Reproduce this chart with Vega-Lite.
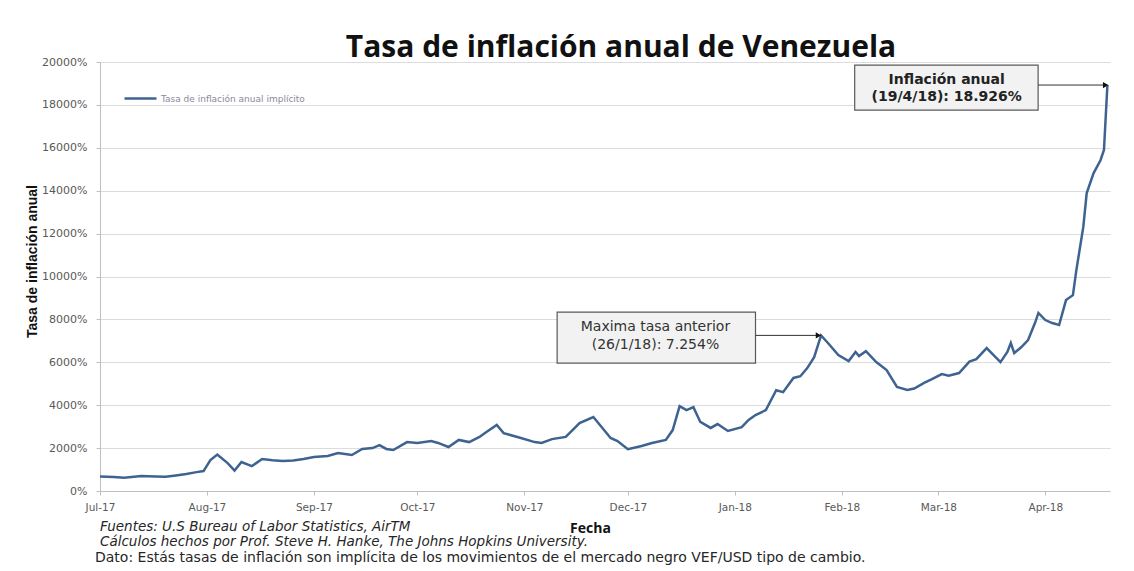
{
  "$schema": "https://vega.github.io/schema/vega-lite/v6.json",
  "width": 1010,
  "height": 429,
  "autosize": {"type": "none"},
  "padding": {"left": 100, "top": 62, "right": 24, "bottom": 80},
  "background": "white",
  "title": {
    "text": "Tasa de inflación anual de Venezuela",
    "font": "Open Sans",
    "fontSize": 30,
    "fontWeight": "bold",
    "color": "#111111",
    "anchor": "middle",
    "frame": "group",
    "baseline": "alphabetic",
    "offset": 5,
    "dx": 16,
    "dy": 36
  },
  "datasets": {
    "serie": [
      {"fecha": "2017-07-01", "valor": 680},
      {"fecha": "2017-07-05", "valor": 650},
      {"fecha": "2017-07-08", "valor": 620},
      {"fecha": "2017-07-13", "valor": 700},
      {"fecha": "2017-07-17", "valor": 680},
      {"fecha": "2017-07-20", "valor": 660},
      {"fecha": "2017-07-23", "valor": 720},
      {"fecha": "2017-07-26", "valor": 790},
      {"fecha": "2017-07-29", "valor": 880},
      {"fecha": "2017-07-31", "valor": 930},
      {"fecha": "2017-08-02", "valor": 1440},
      {"fecha": "2017-08-04", "valor": 1700},
      {"fecha": "2017-08-07", "valor": 1300},
      {"fecha": "2017-08-09", "valor": 950},
      {"fecha": "2017-08-11", "valor": 1350},
      {"fecha": "2017-08-14", "valor": 1160},
      {"fecha": "2017-08-17", "valor": 1490},
      {"fecha": "2017-08-20", "valor": 1430},
      {"fecha": "2017-08-23", "valor": 1400},
      {"fecha": "2017-08-26", "valor": 1420},
      {"fecha": "2017-08-29", "valor": 1490},
      {"fecha": "2017-09-01", "valor": 1580},
      {"fecha": "2017-09-05", "valor": 1630},
      {"fecha": "2017-09-08", "valor": 1770},
      {"fecha": "2017-09-12", "valor": 1680},
      {"fecha": "2017-09-15", "valor": 1960},
      {"fecha": "2017-09-18", "valor": 2000},
      {"fecha": "2017-09-20", "valor": 2140},
      {"fecha": "2017-09-22", "valor": 1960},
      {"fecha": "2017-09-24", "valor": 1910},
      {"fecha": "2017-09-28", "valor": 2280},
      {"fecha": "2017-10-01", "valor": 2240},
      {"fecha": "2017-10-05", "valor": 2330},
      {"fecha": "2017-10-07", "valor": 2240},
      {"fecha": "2017-10-10", "valor": 2050},
      {"fecha": "2017-10-13", "valor": 2380},
      {"fecha": "2017-10-16", "valor": 2280},
      {"fecha": "2017-10-19", "valor": 2520},
      {"fecha": "2017-10-21", "valor": 2750},
      {"fecha": "2017-10-24", "valor": 3080},
      {"fecha": "2017-10-26", "valor": 2700},
      {"fecha": "2017-10-31", "valor": 2470},
      {"fecha": "2017-11-04", "valor": 2280},
      {"fecha": "2017-11-06", "valor": 2240},
      {"fecha": "2017-11-09", "valor": 2420},
      {"fecha": "2017-11-13", "valor": 2520},
      {"fecha": "2017-11-17", "valor": 3170},
      {"fecha": "2017-11-21", "valor": 3450},
      {"fecha": "2017-11-26", "valor": 2470},
      {"fecha": "2017-11-28", "valor": 2330},
      {"fecha": "2017-12-01", "valor": 1950},
      {"fecha": "2017-12-05", "valor": 2100},
      {"fecha": "2017-12-08", "valor": 2240},
      {"fecha": "2017-12-12", "valor": 2380},
      {"fecha": "2017-12-14", "valor": 2840},
      {"fecha": "2017-12-16", "valor": 3960},
      {"fecha": "2017-12-18", "valor": 3770},
      {"fecha": "2017-12-20", "valor": 3910},
      {"fecha": "2017-12-22", "valor": 3220},
      {"fecha": "2017-12-25", "valor": 2940},
      {"fecha": "2017-12-27", "valor": 3120},
      {"fecha": "2017-12-30", "valor": 2800},
      {"fecha": "2018-01-03", "valor": 2980},
      {"fecha": "2018-01-05", "valor": 3310},
      {"fecha": "2018-01-07", "valor": 3540},
      {"fecha": "2018-01-10", "valor": 3770},
      {"fecha": "2018-01-13", "valor": 4700},
      {"fecha": "2018-01-15", "valor": 4610},
      {"fecha": "2018-01-18", "valor": 5270},
      {"fecha": "2018-01-20", "valor": 5350},
      {"fecha": "2018-01-22", "valor": 5730},
      {"fecha": "2018-01-24", "valor": 6240},
      {"fecha": "2018-01-26", "valor": 7254},
      {"fecha": "2018-01-28", "valor": 6900},
      {"fecha": "2018-01-31", "valor": 6340},
      {"fecha": "2018-02-03", "valor": 6060},
      {"fecha": "2018-02-05", "valor": 6480},
      {"fecha": "2018-02-06", "valor": 6290},
      {"fecha": "2018-02-08", "valor": 6520},
      {"fecha": "2018-02-11", "valor": 6010},
      {"fecha": "2018-02-14", "valor": 5640},
      {"fecha": "2018-02-17", "valor": 4850},
      {"fecha": "2018-02-20", "valor": 4710},
      {"fecha": "2018-02-22", "valor": 4780},
      {"fecha": "2018-02-25", "valor": 5050},
      {"fecha": "2018-02-27", "valor": 5200},
      {"fecha": "2018-03-02", "valor": 5450},
      {"fecha": "2018-03-04", "valor": 5380},
      {"fecha": "2018-03-07", "valor": 5500},
      {"fecha": "2018-03-10", "valor": 6030},
      {"fecha": "2018-03-12", "valor": 6150},
      {"fecha": "2018-03-15", "valor": 6660},
      {"fecha": "2018-03-19", "valor": 6010},
      {"fecha": "2018-03-21", "valor": 6480},
      {"fecha": "2018-03-22", "valor": 6900},
      {"fecha": "2018-03-23", "valor": 6430},
      {"fecha": "2018-03-25", "valor": 6700},
      {"fecha": "2018-03-27", "valor": 7040},
      {"fecha": "2018-03-29", "valor": 7830},
      {"fecha": "2018-03-30", "valor": 8300},
      {"fecha": "2018-04-01", "valor": 7970},
      {"fecha": "2018-04-03", "valor": 7830},
      {"fecha": "2018-04-05", "valor": 7740},
      {"fecha": "2018-04-07", "valor": 8900},
      {"fecha": "2018-04-09", "valor": 9130},
      {"fecha": "2018-04-10", "valor": 10300},
      {"fecha": "2018-04-12", "valor": 12300},
      {"fecha": "2018-04-13", "valor": 13890},
      {"fecha": "2018-04-15", "valor": 14820},
      {"fecha": "2018-04-17", "valor": 15420},
      {"fecha": "2018-04-18", "valor": 15900},
      {"fecha": "2018-04-19", "valor": 18926}
    ],
    "cajas": [
      {"x1": "2017-11-10T12:00:00Z", "x2": "2018-01-07T00:00:00Z", "y1": 8340, "y2": 5965},
      {"x1": "2018-02-04T18:00:00Z", "x2": "2018-03-29T22:00:00Z", "y1": 19850, "y2": 17755}
    ],
    "notas": [
      {"fecha": "2017-12-09T00:00:00Z", "valor": 7640, "texto": "Maxima tasa anterior", "estilo": "normal"},
      {"fecha": "2017-12-09T00:00:00Z", "valor": 6800, "texto": "(26/1/18): 7.254%", "estilo": "normal"},
      {"fecha": "2018-03-03T10:00:00Z", "valor": 19150, "texto": "Inflación anual", "estilo": "negrita"},
      {"fecha": "2018-03-03T10:00:00Z", "valor": 18360, "texto": "(19/4/18): 18.926%", "estilo": "negrita"}
    ],
    "flechas": [
      {"x1": "2018-01-07T00:00:00Z", "x2": "2018-01-25T06:00:00Z", "valor": 7254},
      {"x1": "2018-03-29T22:00:00Z", "x2": "2018-04-18T12:00:00Z", "valor": 18926}
    ],
    "pie": [
      {"fecha": "2017-07-01T00:00:00Z", "valor": -1678, "texto": "Fuentes: U.S Bureau of Labor Statistics, AirTM", "estilo": "italic"},
      {"fecha": "2017-07-01T00:00:00Z", "valor": -2377, "texto": "Cálculos hechos por Prof. Steve H. Hanke, The Johns Hopkins University.", "estilo": "italic"},
      {"fecha": "2017-07-01T00:00:00Z", "valor": -3122, "texto": "Dato: Estás tasas de inflación son implícita de los movimientos de el mercado negro VEF/USD tipo de cambio.", "estilo": "normal"}
    ]
  },
  "layer": [
    {
      "data": {"name": "serie"},
      "mark": {"type": "line", "strokeWidth": 2.5},
      "encoding": {
        "x": {
          "field": "fecha",
          "type": "temporal",
          "title": "Fecha",
          "scale": {
            "type": "utc",
            "domain": [
              {"year": 2017, "month": "jul", "date": 1, "utc": true},
              {"year": 2018, "month": "apr", "date": 19, "hours": 18, "utc": true}
            ]
          },
          "axis": {
            "format": "%b-%y",
            "tickCount": {"interval": "month", "step": 1},
            "grid": false,
            "labelFlush": false,
            "labelOverlap": false,
            "domainColor": "#bfbfbf",
            "tickColor": "#bfbfbf",
            "tickSize": 4,
            "labelFont": "DejaVu Sans",
            "labelFontSize": 10.5,
            "labelColor": "#595959",
            "labelPadding": 7,
            "titleFont": "Open Sans",
            "titleFontSize": 14,
            "titleFontWeight": "bold",
            "titleColor": "#111111",
            "titleX": 490,
            "titleY": 41,
            "titleBaseline": "alphabetic"
          }
        },
        "y": {
          "field": "valor",
          "type": "quantitative",
          "title": "Tasa de inflación anual",
          "scale": {"domain": [0, 20000], "nice": false},
          "axis": {
            "values": [0, 2000, 4000, 6000, 8000, 10000, 12000, 14000, 16000, 18000, 20000],
            "labelExpr": "datum.value + '%'",
            "grid": true,
            "gridColor": "#dcdcdc",
            "domainColor": "#bfbfbf",
            "tickColor": "#bfbfbf",
            "tickSize": 4,
            "labelPadding": 9,
            "labelFont": "DejaVu Sans",
            "labelFontSize": 11,
            "labelColor": "#595959",
            "titleFont": "Liberation Sans Narrow, Arial Narrow, Liberation Sans",
            "titleFontSize": 14,
            "titleFontWeight": "bold",
            "titleColor": "#111111",
            "titleAngle": 270,
            "titleAlign": "center",
            "titleBaseline": "middle",
            "titleX": -68,
            "titleY": 199
          }
        },
        "color": {
          "datum": "Tasa de inflación anual implícito",
          "type": "nominal",
          "scale": {"range": ["#3f6390"]},
          "legend": {
            "orient": "none",
            "legendX": 23,
            "legendY": 19,
            "title": null,
            "symbolType": "stroke",
            "symbolSize": 1024,
            "symbolStrokeWidth": 2.5,
            "labelFont": "DejaVu Sans",
            "labelFontSize": 9,
            "labelColor": "#8a8a99",
            "labelOffset": 3
          }
        }
      }
    },
    {
      "data": {"name": "cajas"},
      "mark": {"type": "rect", "fill": "#f2f2f2", "stroke": "#595959", "strokeWidth": 1.2},
      "encoding": {
        "x": {"field": "x1", "type": "temporal", "title": "Fecha"},
        "x2": {"field": "x2"},
        "y": {"field": "y1", "type": "quantitative", "title": "Tasa de inflación anual"},
        "y2": {"field": "y2"}
      }
    },
    {
      "data": {"name": "notas"},
      "transform": [{"filter": "datum.estilo == 'normal'"}],
      "mark": {"type": "text", "font": "DejaVu Sans", "fontSize": 14, "color": "#333333", "align": "center", "baseline": "middle"},
      "encoding": {
        "x": {"field": "fecha", "type": "temporal", "title": "Fecha"},
        "y": {"field": "valor", "type": "quantitative", "title": "Tasa de inflación anual"},
        "text": {"field": "texto"}
      }
    },
    {
      "data": {"name": "notas"},
      "transform": [{"filter": "datum.estilo == 'negrita'"}],
      "mark": {"type": "text", "font": "DejaVu Sans", "fontSize": 14, "fontWeight": "bold", "color": "#222222", "align": "center", "baseline": "middle"},
      "encoding": {
        "x": {"field": "fecha", "type": "temporal", "title": "Fecha"},
        "y": {"field": "valor", "type": "quantitative", "title": "Tasa de inflación anual"},
        "text": {"field": "texto"}
      }
    },
    {
      "data": {"name": "flechas"},
      "mark": {"type": "rule", "color": "#333333", "strokeWidth": 1},
      "encoding": {
        "x": {"field": "x1", "type": "temporal", "title": "Fecha"},
        "x2": {"field": "x2"},
        "y": {"field": "valor", "type": "quantitative", "title": "Tasa de inflación anual"}
      }
    },
    {
      "data": {"name": "flechas"},
      "mark": {"type": "point", "shape": "triangle-right", "filled": true, "color": "#111111", "size": 40, "opacity": 1},
      "encoding": {
        "x": {"field": "x2", "type": "temporal", "title": "Fecha"},
        "y": {"field": "valor", "type": "quantitative", "title": "Tasa de inflación anual"}
      }
    },
    {
      "data": {"name": "pie"},
      "transform": [{"filter": "datum.estilo == 'italic'"}],
      "mark": {"type": "text", "font": "DejaVu Sans", "fontSize": 13.5, "fontStyle": "italic", "color": "#262626", "align": "left", "baseline": "middle"},
      "encoding": {
        "x": {"field": "fecha", "type": "temporal", "title": "Fecha"},
        "y": {"field": "valor", "type": "quantitative", "title": "Tasa de inflación anual"},
        "text": {"field": "texto"}
      }
    },
    {
      "data": {"name": "pie"},
      "transform": [{"filter": "datum.estilo == 'normal'"}],
      "mark": {"type": "text", "font": "DejaVu Sans", "fontSize": 14, "color": "#262626", "align": "left", "baseline": "middle", "dx": -5},
      "encoding": {
        "x": {"field": "fecha", "type": "temporal", "title": "Fecha"},
        "y": {"field": "valor", "type": "quantitative", "title": "Tasa de inflación anual"},
        "text": {"field": "texto"}
      }
    }
  ],
  "config": {
    "view": {"stroke": null}
  }
}
